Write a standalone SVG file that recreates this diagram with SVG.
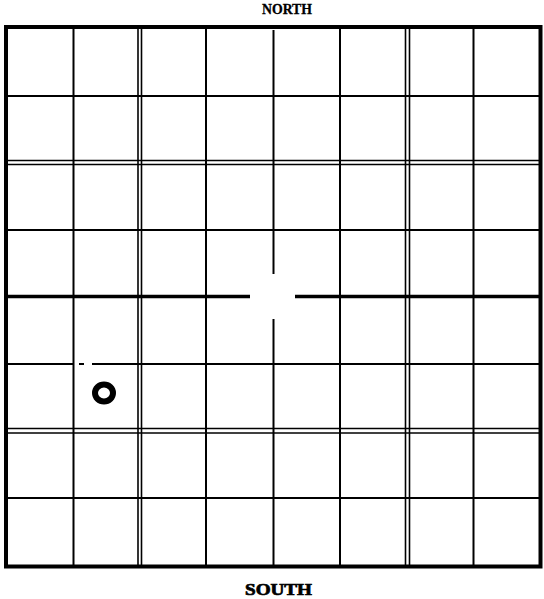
<svg xmlns="http://www.w3.org/2000/svg" width="544" height="599" viewBox="0 0 544 599">
<style>
.thin{stroke:#000;stroke-width:2;fill:none}
.dbl{stroke:#000;stroke-width:1.6;fill:none}
.axis{stroke:#000;stroke-width:3.5;fill:none}
.border{stroke:#000;stroke-width:4;fill:none}
.lbl{font-family:"Liberation Serif","DejaVu Serif",serif;font-weight:bold;fill:#000}
</style>
<rect width="544" height="599" fill="#fff"/>
<g id="labels">
<text class="lbl" x="262" y="14" font-size="14.5" textLength="50" lengthAdjust="spacingAndGlyphs" stroke="#000" stroke-width="0.3">NORTH</text>
<text class="lbl" x="245" y="595" font-size="16" textLength="67" lengthAdjust="spacingAndGlyphs" stroke="#000" stroke-width="0.7">SOUTH</text>
</g>
<g id="grid-single">
<line class="thin" x1="73.5" y1="27" x2="73.5" y2="566"/>
<line class="thin" x1="206" y1="27" x2="206" y2="566"/>
<line class="thin" x1="340" y1="27" x2="340" y2="566"/>
<line class="thin" x1="473.5" y1="27" x2="473.5" y2="566"/>
<line class="thin" x1="6" y1="96" x2="540" y2="96"/>
<line class="thin" x1="6" y1="230" x2="540" y2="230"/>
<line class="thin" x1="6" y1="364" x2="73" y2="364"/>
<line class="thin" x1="79" y1="364" x2="84" y2="364"/>
<line class="thin" x1="92" y1="364" x2="540" y2="364"/>
<line class="thin" x1="6" y1="498" x2="540" y2="498"/>
</g>
<g id="grid-double">
<line class="dbl" x1="138" y1="27" x2="138" y2="566"/>
<line class="dbl" x1="141.5" y1="27" x2="141.5" y2="566"/>
<line class="dbl" x1="405.5" y1="27" x2="405.5" y2="566"/>
<line class="dbl" x1="409.5" y1="27" x2="409.5" y2="566"/>
<line class="dbl" x1="6" y1="160.5" x2="540" y2="160.5"/>
<line class="dbl" x1="6" y1="164.5" x2="540" y2="164.5"/>
<line class="dbl" x1="6" y1="428.5" x2="540" y2="428.5"/>
<line class="dbl" x1="6" y1="433" x2="540" y2="433"/>
</g>
<g id="center-cross">
<line class="axis" x1="6" y1="296.5" x2="250" y2="296.5"/>
<line class="axis" x1="295" y1="296.5" x2="540" y2="296.5"/>
<line class="thin" stroke-width="3" x1="273.5" y1="30" x2="273.5" y2="274"/>
<line class="thin" stroke-width="3" x1="273.5" y1="319" x2="273.5" y2="566"/>
</g>
<g id="border">
<rect class="border" x="6" y="27" width="534.5" height="539.5"/>
</g>
<g id="marker">
<ellipse cx="104" cy="393" rx="9" ry="8.5" stroke="#000" stroke-width="6" fill="none"/>
</g>
</svg>
